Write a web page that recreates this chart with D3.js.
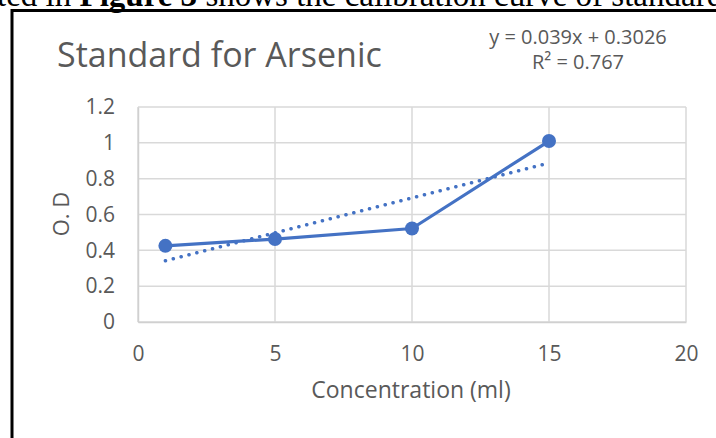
<!DOCTYPE html>
<html><head><meta charset="utf-8">
<script src="https://cdn.jsdelivr.net/npm/d3@7"></script>
<style>body{margin:0;background:#fff}svg{display:block}</style>
</head><body>
<svg id="c" width="716" height="438"></svg>
<script>
const concentrations = [1, 5, 10, 15];
const odValues = [0.425, 0.463, 0.522, 1.01];
const xTicks = [0, 5, 10, 15, 20];
const yTicks = [0, 0.2, 0.4, 0.6, 0.8, 1, 1.2];
const trendSlope = 0.039, trendIntercept = 0.3026;
const titleText = "Standard for Arsenic";
const eqText = "y = 0.039x + 0.3026";
const xLabel = "Concentration (ml)";
const yLabel = "O. D";

const svg = d3.select("#c");
const font = "'Open Sans', sans-serif";
const grey = "#595959", blue = "#4472C4";

// surrounding document text (cut off at the top, as in the reference)
const docText = svg.append("text").attr("x", -3).attr("y", 6)
  .attr("font-family", "'Liberation Serif', serif").attr("font-size", 33).attr("fill", "#000");
docText.append("tspan").text("ted in ");
docText.append("tspan").attr("font-weight", "bold").text("Figure 3");
docText.append("tspan").text(" shows the calibration curve of standard");

// frame
svg.append("line").attr("x1", 12).attr("x2", 716).attr("y1", 10.5).attr("y2", 10.5).attr("stroke", "#000").attr("stroke-width", 3);
svg.append("line").attr("x1", 12).attr("x2", 12).attr("y1", 9).attr("y2", 438).attr("stroke", "#000").attr("stroke-width", 3);

const x = d3.scaleLinear().domain([0, 20]).range([138, 686]);
const y = d3.scaleLinear().domain([0, 1.2]).range([322, 107]);

// grid
svg.append("g").selectAll("line").data(yTicks).join("line")
  .attr("x1", x(0)).attr("x2", x(20)).attr("y1", d => y(d)).attr("y2", d => y(d))
  .attr("stroke", "#d9d9d9").attr("stroke-width", 1.5);
svg.append("g").selectAll("line").data(xTicks).join("line")
  .attr("y1", y(0)).attr("y2", y(1.2)).attr("x1", d => x(d)).attr("x2", d => x(d))
  .attr("stroke", "#d9d9d9").attr("stroke-width", 1.5);

// axes
const ax = svg.append("g").attr("transform", `translate(0,${y(0)})`)
  .call(d3.axisBottom(x).tickValues(xTicks).tickSize(0).tickPadding(24).tickFormat(d3.format("d")));
ax.select(".domain").attr("stroke", "#d0d0d0").attr("stroke-width", 1.5);
ax.selectAll("text").attr("font-family", font).attr("font-size", 21).attr("fill", grey);
const ay = svg.append("g").attr("transform", `translate(${x(0)},0)`)
  .call(d3.axisLeft(y).tickValues(yTicks).tickSize(0).tickPadding(23).tickFormat(d => String(d)));
ay.select(".domain").attr("stroke", "#d0d0d0").attr("stroke-width", 1.5);
ay.selectAll("text").attr("font-family", font).attr("font-size", 21).attr("fill", grey);

// trendline
svg.append("line")
  .attr("x1", x(concentrations[0])).attr("y1", y(trendSlope * concentrations[0] + trendIntercept))
  .attr("x2", x(concentrations[3])).attr("y2", y(trendSlope * concentrations[3] + trendIntercept))
  .attr("stroke", blue).attr("stroke-width", 3.5).attr("stroke-linecap", "round")
  .attr("stroke-dasharray", "0.1 8");

// series
const pts = concentrations.map((c, i) => [c, odValues[i]]);
svg.append("path").datum(pts)
  .attr("d", d3.line().x(d => x(d[0])).y(d => y(d[1])))
  .attr("fill", "none").attr("stroke", blue).attr("stroke-width", 3.2).attr("stroke-linejoin", "round");
svg.append("g").selectAll("circle").data(pts).join("circle")
  .attr("cx", d => x(d[0])).attr("cy", d => y(d[1])).attr("r", 7).attr("fill", blue);

// texts
svg.append("text").attr("x", 57).attr("y", 67).attr("font-family", font).attr("font-size", 34)
  .attr("fill", grey).text(titleText);
svg.append("text").attr("x", 578).attr("y", 44).attr("text-anchor", "middle").attr("font-family", font)
  .attr("font-size", 20).attr("fill", grey).text(eqText);
svg.append("text").attr("x", 578).attr("y", 69).attr("text-anchor", "middle").attr("font-family", font)
  .attr("font-size", 20).attr("fill", grey).text("R² = 0.767");
svg.append("text").attr("x", 411).attr("y", 398).attr("text-anchor", "middle").attr("font-family", font)
  .attr("font-size", 23).attr("fill", grey).text(xLabel);
svg.append("text").attr("transform", "translate(69,214) rotate(-90)").attr("text-anchor", "middle")
  .attr("font-family", font).attr("font-size", 22).attr("fill", grey).text(yLabel);
</script>
</body></html>
